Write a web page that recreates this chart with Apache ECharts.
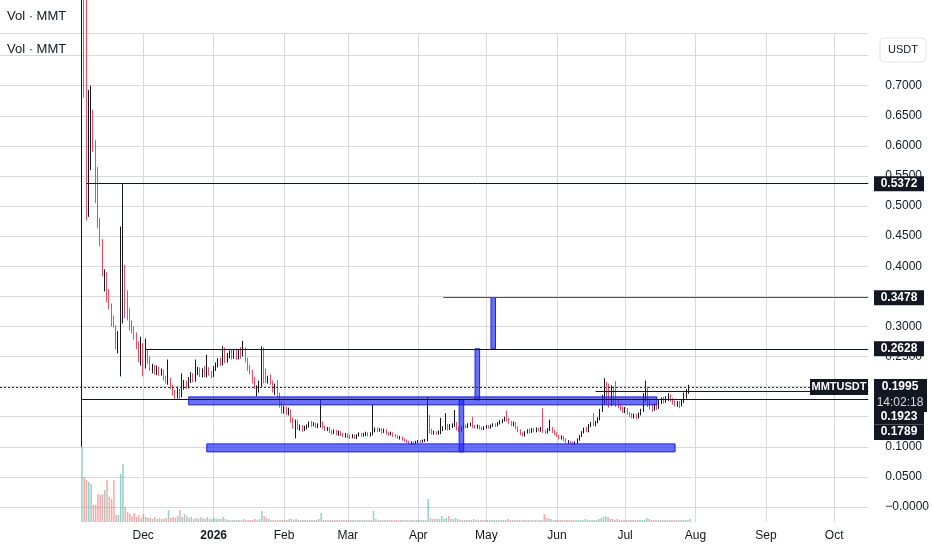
<!DOCTYPE html>
<html><head><meta charset="utf-8">
<script src="https://cdn.jsdelivr.net/npm/echarts@6/dist/echarts.min.js"></script>
<style>html,body{margin:0;padding:0;background:#fff}#c{width:932px;height:550px}</style>
</head><body><div id="c"></div>
<script>
// ---- axis range & dates ----
const axisStart = '2025-09-29';
const axisEnd = '2026-10-16';
const firstCandle = '2025-11-04';
const firstMonthTick = '2025-12-01';
const monthNames = ['Jan','Feb','Mar','Apr','May','Jun','Jul','Aug','Sep','Oct','Nov','Dec'];

// ---- daily OHLC (MMTUSDT), from 2025-11-04 ----
const opens = [.100,1.000,.720,.520,.600,.655,.605,.560,.475,.440,
.370,.385,.355,.335,.310,.300,.262,.270,.313,.390,
.345,.325,.305,.295,.283,.270,.250,.268,.235,.258,
.245,.228,.233,.224,.230,.222,.226,.214,.207,.212,
.200,.190,.184,.192,.186,.199,.207,.200,.211,.218,
.210,.224,.229,.220,.226,.219,.228,.221,.218,.230,
.236,.243,.237,.250,.242,.252,.256,.250,.257,.249,
.258,.252,.262,.245,.232,.225,.212,.196,.198,.205,
.240,.225,.210,.215,.206,.196,.200,.185,.170,.158,
.163,.157,.160,.145,.135,.140,.131,.134,.128,.132,
.135,.140,.136,.139,.134,.136,.139,.133,.129,.131,
.126,.123,.127,.122,.125,.121,.118,.121,.117,.116,
.119,.115,.119,.121,.118,.121,.122,.119,.122,.126,
.130,.127,.129,.125,.128,.123,.121,.123,.119,.117,
.115,.116,.112,.110,.108,.106,.107,.105,.108,.109,
.108,.110,.111,.140,.126,.123,.124,.122,.124,.128,
.130,.133,.130,.135,.136,.139,.130,.127,.132,.135,
.133,.136,.138,.134,.132,.134,.131,.130,.132,.134,
.132,.135,.137,.135,.139,.141,.144,.147,.145,.141,
.137,.139,.132,.127,.122,.119,.124,.127,.125,.129,
.126,.129,.127,.130,.126,.124,.128,.131,.126,.122,
.118,.114,.117,.112,.108,.109,.106,.104,.107,.112,
.118,.124,.130,.126,.135,.139,.136,.141,.146,.160,
.182,.195,.176,.172,.180,.176,.172,.168,.163,.159,
.162,.156,.152,.150,.153,.149,.155,.160,.178,.192,
.172,.165,.162,.168,.165,.174,.178,.175,.179,.183,
.178,.174,.170,.174,.169,.175,.185,.192];
const closes = [1.000,.700,.560,.650,.665,.605,.520,.480,.440,.390,
.385,.350,.335,.305,.300,.270,.285,.300,.336,.335,
.320,.300,.290,.282,.270,.255,.265,.225,.250,.242,
.232,.232,.225,.231,.222,.226,.214,.208,.212,.200,
.190,.184,.192,.186,.200,.207,.200,.212,.218,.210,
.225,.229,.220,.226,.219,.228,.221,.218,.230,.236,
.243,.237,.248,.242,.252,.256,.250,.257,.249,.258,
.252,.262,.245,.232,.225,.212,.200,.198,.205,.240,
.225,.210,.215,.206,.196,.200,.185,.170,.158,.163,
.157,.160,.145,.135,.142,.132,.134,.128,.133,.135,
.140,.136,.139,.134,.137,.139,.133,.129,.131,.126,
.123,.127,.122,.125,.121,.118,.121,.117,.116,.119,
.115,.119,.121,.118,.121,.122,.119,.122,.126,.130,
.127,.129,.125,.128,.123,.121,.123,.119,.117,.115,
.116,.112,.110,.108,.106,.107,.105,.108,.109,.108,
.110,.111,.140,.126,.123,.124,.122,.124,.128,.130,
.133,.130,.135,.136,.139,.130,.127,.132,.135,.133,
.136,.138,.134,.132,.134,.131,.130,.132,.134,.132,
.135,.137,.135,.139,.141,.144,.147,.145,.141,.137,
.139,.132,.127,.122,.119,.124,.127,.125,.129,.126,
.129,.127,.130,.126,.124,.128,.131,.126,.122,.118,
.114,.117,.112,.108,.109,.106,.104,.107,.112,.118,
.124,.130,.126,.135,.139,.136,.141,.146,.160,.182,
.195,.176,.172,.180,.176,.172,.168,.163,.159,.162,
.156,.152,.150,.153,.149,.155,.160,.178,.192,.172,
.165,.162,.168,.165,.174,.178,.175,.179,.183,.178,
.174,.170,.174,.169,.175,.185,.192,.1995];
const lows = [.100,.680,.476,.482,.560,.590,.505,.463,.433,.383,
.358,.340,.328,.300,.298,.262,.255,.217,.305,.313,
.310,.293,.288,.278,.262,.240,.235,.217,.230,.238,
.226,.222,.220,.219,.218,.218,.210,.205,.203,.196,
.185,.179,.180,.1795,.182,.195,.196,.197,.206,.207,
.208,.219,.216,.215,.216,.215,.218,.214,.216,.226,
.232,.234,.235,.239,.240,.247,.245,.246,.244,.245,
.246,.250,.240,.226,.220,.205,.196,.184,.190,.200,
.205,.206,.205,.203,.190,.186,.182,.165,.155,.155,
.153,.152,.140,.130,.114,.128,.127,.125,.126,.129,
.132,.133,.134,.131,.131,.132,.130,.126,.126,.123,
.120,.121,.119,.118,.118,.116,.115,.114,.113,.114,
.113,.113,.117,.116,.117,.118,.117,.117,.119,.124,
.124,.125,.122,.123,.120,.118,.119,.116,.115,.113,
.112,.110,.108,.106,.104,.103,.103,.104,.106,.106,
.107,.108,.109,.122,.120,.120,.120,.120,.121,.126,
.128,.127,.128,.131,.133,.127,.124,.125,.130,.131,
.131,.134,.131,.130,.130,.129,.128,.128,.130,.130,
.130,.133,.133,.134,.137,.139,.142,.142,.138,.134,
.134,.129,.124,.119,.117,.117,.122,.122,.123,.124,
.124,.125,.125,.123,.121,.122,.126,.123,.119,.116,
.112,.112,.109,.106,.105,.104,.102,.103,.105,.110,
.116,.122,.124,.124,.133,.134,.134,.139,.144,.158,
.170,.172,.165,.168,.170,.166,.164,.160,.156,.156,
.153,.149,.147,.147,.146,.147,.152,.158,.175,.166,
.162,.158,.160,.161,.163,.171,.172,.173,.176,.175,
.170,.167,.166,.164,.167,.173,.180,.188];
const highs = [1.600,1.100,.900,.693,.700,.660,.610,.565,.480,.445,
.395,.390,.362,.338,.318,.302,.292,.466,.5372,.402,
.360,.330,.310,.300,.290,.275,.283,.272,.280,.262,
.250,.238,.236,.235,.233,.230,.228,.218,.245,.215,
.203,.194,.200,.196,.222,.211,.210,.216,.224,.222,
.245,.233,.232,.230,.234,.253,.232,.226,.234,.240,
.247,.248,.267,.265,.256,.260,.262,.261,.263,.262,
.266,.276,.265,.248,.236,.228,.216,.202,.210,.267,
.265,.230,.218,.220,.210,.205,.211,.190,.175,.168,
.167,.165,.162,.148,.145,.145,.137,.136,.135,.137,
.142,.143,.141,.140,.139,.178,.142,.135,.133,.133,
.128,.129,.128,.127,.126,.123,.123,.122,.120,.121,
.120,.121,.124,.123,.123,.125,.124,.124,.170,.132,
.132,.131,.131,.130,.129,.125,.125,.124,.121,.119,
.118,.117,.114,.112,.110,.109,.109,.110,.111,.111,
.112,.113,.183,.153,.130,.127,.126,.127,.148,.134,
.156,.138,.138,.139,.161,.141,.133,.134,.137,.137,
.139,.140,.150,.136,.137,.136,.133,.134,.136,.136,
.137,.139,.139,.141,.144,.146,.150,.160,.148,.143,
.142,.141,.134,.129,.124,.126,.129,.130,.131,.131,
.132,.131,.133,.164,.128,.131,.145,.133,.128,.124,
.120,.119,.118,.114,.111,.110,.108,.109,.114,.120,
.126,.132,.133,.138,.141,.156,.143,.149,.163,.186,
.214,.208,.205,.202,.200,.209,.178,.172,.167,.166,
.164,.158,.156,.155,.155,.157,.163,.189,.210,.200,
.180,.170,.172,.174,.178,.182,.183,.184,.189,.187,
.181,.177,.176,.176,.178,.190,.196,.203];
const volumes = [75,45,42,40,38,17,17,28,27,28,
32,42,25,23,42,7,7,48,58,15,
10,8,6,9,5,7,4,8,5,4,
4,3,5,3,4,3,3,4,12,4,
5,4,6,12,5,8,6,4,5,3,
4,3,5,4,3,5,3,3,4,3,
3,3,5,3,2,2,2,2,2,2,
2,3,2,2,2,2,3,2,3,11,
6,4,3,2,2,2,2,2,2,2,
2,3,3,2,3,2,2,2,2,2,
2,2,2,2,3,9,2,2,2,2,
2,2,2,2,2,2,2,2,2,2,
2,2,2,2,2,2,2,2,11,3,
2,2,2,2,2,2,2,2,2,2,
2,2,2,2,2,2,2,2,2,2,
2,2,23,4,3,3,3,3,6,3,
4,6,3,3,4,3,2,2,2,2,
2,2,3,2,2,2,2,2,2,2,
2,2,2,2,2,2,2,3,2,2,
2,2,2,2,2,2,2,2,2,2,
2,2,2,8,4,4,3,2,2,2,
2,2,2,2,2,2,2,2,2,2,
2,3,2,2,2,2,2,3,4,5,
6,5,3,3,2,3,2,2,2,2,
2,2,2,2,2,2,2,2,4,3,
2,2,2,2,2,2,2,2,2,2,
2,2,2,2,2,2,2,3];

// ---- drawings ----
const levelLines = [
  {from: '2025-11-06', value: 0.5372, color: '#131722'},
  {from: '2026-04-12', value: 0.3478, color: '#555'},
  {from: '2025-12-02', value: 0.2628, color: '#131722'},
  {from: '2026-06-18', value: 0.1923, color: '#131722'},
  {from: '2025-11-04', value: 0.1789, color: '#131722'}
];
const zones = [
  {from: '2025-12-21', to: '2026-07-15', top: 0.1829, bottom: 0.1696},
  {from: '2025-12-29', to: '2026-07-23', top: 0.1048, bottom: 0.0915},
  {from: '2026-04-19', to: '2026-04-21', top: 0.1780, bottom: 0.0915},
  {from: '2026-04-26', to: '2026-04-28', top: 0.2628, bottom: 0.1780},
  {from: '2026-05-03', to: '2026-05-05', top: 0.3478, bottom: 0.2628}
];
const priceTags = [0.5372, 0.3478, 0.2628];
const lastPrice = 0.1995;
const countdown = '14:02:18';
const stackedTags = [0.1923, 0.1789];
const symbolName = 'MMTUSDT';
const currency = 'USDT';
const paneTitle = 'Vol · MMT';

// ---- build categories ----
function dayList(a, b) {
  const out = [];
  let t = Date.parse(a + 'T00:00:00Z');
  const e = Date.parse(b + 'T00:00:00Z');
  while (t <= e) { out.push(new Date(t).toISOString().slice(0, 10)); t += 86400000; }
  return out;
}
const cats = dayList(axisStart, axisEnd);
const off = cats.indexOf(firstCandle);
const candleData = opens.map((o, k) => [cats[off + k], o, closes[k], lows[k], highs[k]]);
const volData = volumes.map((v, k) => [cats[off + k], v]);

const isMonthStart = (i, v) => v.slice(8) === '01' && v >= firstMonthTick;
const FONT = '"Liberation Sans", Arial, sans-serif';
const TXT = '#131722';
const GRID = '#d9d9d9';
const UP = '#131722', DOWN = '#ef4a5f';

const option = {
  animation: false,
  backgroundColor: '#fff',
  grid: [
    {left: 0, right: 62, top: 33, bottom: 28},
    {left: 0, right: 62, top: 447, bottom: 28}
  ],
  xAxis: [
    {type: 'category', data: cats, boundaryGap: false, gridIndex: 0,
     axisLine: {show: false}, axisTick: {show: false},
     splitLine: {show: true, interval: isMonthStart, lineStyle: {color: GRID, width: 1}},
     axisLabel: {
      show: true, interval: isMonthStart, color: TXT, fontSize: 12, fontFamily: FONT, margin: 8,
      formatter: v => {
        const m = +v.slice(5, 7);
        return m === 1 ? '{y|' + v.slice(0, 4) + '}' : monthNames[m - 1];
      },
      rich: {y: {fontWeight: 'bold', fontSize: 12, fontFamily: FONT, color: TXT}}
    }},
    {type: 'category', data: cats, boundaryGap: false, gridIndex: 1, show: false}
  ],
  yAxis: [
    {type: 'value', gridIndex: 0, position: 'right', min: -0.025, max: 0.7875, interval: 0.025,
     axisLine: {show: false}, axisTick: {show: false},
     splitLine: {show: true, showMinLine: true, showMaxLine: true, lineStyle: {color: ['rgba(0,0,0,0)', GRID], width: 1}},
     axisLabel: {color: TXT, fontSize: 12, fontFamily: FONT, margin: 17, align: 'left',
       formatter: v => {
         if (v < -1e-9) return '';
         if (Math.abs(v * 20 - Math.round(v * 20)) > 1e-6) return '';
         return Math.abs(v) < 1e-9 ? '\u22120.0000' : v.toFixed(4);
       }}},
    {type: 'value', gridIndex: 1, min: 0, max: 75, show: false, splitLine: {show: false}}
  ],
  series: [
    {
      type: 'bar', xAxisIndex: 1, yAxisIndex: 1, data: volData, barWidth: 1.5, z: 1,
      itemStyle: {color: p => closes[p.dataIndex] >= opens[p.dataIndex] ? 'rgba(38,166,154,0.5)' : 'rgba(239,83,80,0.5)'}
    },
    {
      type: 'candlestick', xAxisIndex: 0, yAxisIndex: 0, data: candleData, z: 2,
      encode: {x: 0, y: [1, 2, 3, 4]}, barWidth: 1, clip: true,
      itemStyle: {color: UP, color0: DOWN, borderColor: UP, borderColor0: DOWN, borderWidth: 1},
      markLine: {
        silent: true, symbol: 'none', z: 4, label: {show: false},
        data: levelLines.map(l => [
          {coord: [l.from, l.value], lineStyle: {color: l.color, width: 1, type: 'solid'}},
          {coord: [axisEnd, l.value]}
        ]).concat([[
          {coord: [axisStart, lastPrice], lineStyle: {color: '#333', width: 1, type: [2, 2]}},
          {coord: [axisEnd, lastPrice]}
        ]])
      },
      markArea: {
        silent: true, z: 3,
        itemStyle: {color: 'rgba(36,44,245,0.68)', borderColor: '#1e1ee6', borderWidth: 1},
        data: zones.map(z => [{coord: [z.from, z.top]}, {coord: [z.to, z.bottom]}])
      }
    }
  ]
};

const chart = echarts.init(document.getElementById('c'));
chart.setOption(option);

// ---- right-side price tags & header texts ----
const py = v => chart.convertToPixel({yAxisIndex: 0}, v);
const TX = 874;
const TW = 50;
const els = [];
function box(x, y, w, h, text, font, fill) {
  els.push({type: 'rect', z: 100, shape: {x: x, y: y, width: w, height: h}, style: {fill: '#131722'}});
  els.push({type: 'text', z: 101, x: x + w / 2, y: y + h / 2,
    style: {text: text, fill: fill || '#fff', font: font, align: 'center', verticalAlign: 'middle'}});
}
priceTags.forEach(v => { const y = py(v); box(TX, y - 7.5, TW, 15, v.toFixed(4), 'bold 12px ' + FONT); });
const yc = py(lastPrice);
els.push({type: 'rect', z: 100, shape: {x: TX, y: yc - 8, width: 53, height: 33}, style: {fill: '#131722'}});
els.push({type: 'text', z: 101, x: TX + 26, y: yc, style: {text: lastPrice.toFixed(4), fill: '#fff', font: 'bold 12px ' + FONT, align: 'center', verticalAlign: 'middle'}});
els.push({type: 'text', z: 101, x: TX + 26, y: yc + 16, style: {text: countdown, fill: '#d8d8d8', font: '12px ' + FONT, align: 'center', verticalAlign: 'middle'}});
box(TX, yc + 22, TW, 15.5, stackedTags[0].toFixed(4), 'bold 12px ' + FONT);
box(TX, yc + 37.5, TW, 15.5, stackedTags[1].toFixed(4), 'bold 12px ' + FONT);
box(810, yc - 8, 58, 16, symbolName, 'bold 11px ' + FONT);
els.push({type: 'rect', z: 100, shape: {x: 880, y: 38, width: 46, height: 24, r: 4}, style: {fill: '#fff', stroke: '#e0e3eb', lineWidth: 1}});
els.push({type: 'text', z: 101, x: 903, y: 50, style: {text: currency, fill: TXT, font: '11px ' + FONT, align: 'center', verticalAlign: 'middle'}});
els.push({type: 'text', z: 101, x: 7, y: 16, style: {text: paneTitle, fill: TXT, font: '13px ' + FONT, align: 'left', verticalAlign: 'middle'}});
els.push({type: 'text', z: 101, x: 7, y: 49, style: {text: paneTitle, fill: TXT, font: '13px ' + FONT, align: 'left', verticalAlign: 'middle'}});
chart.setOption({graphic: els});
</script>
</body></html>
